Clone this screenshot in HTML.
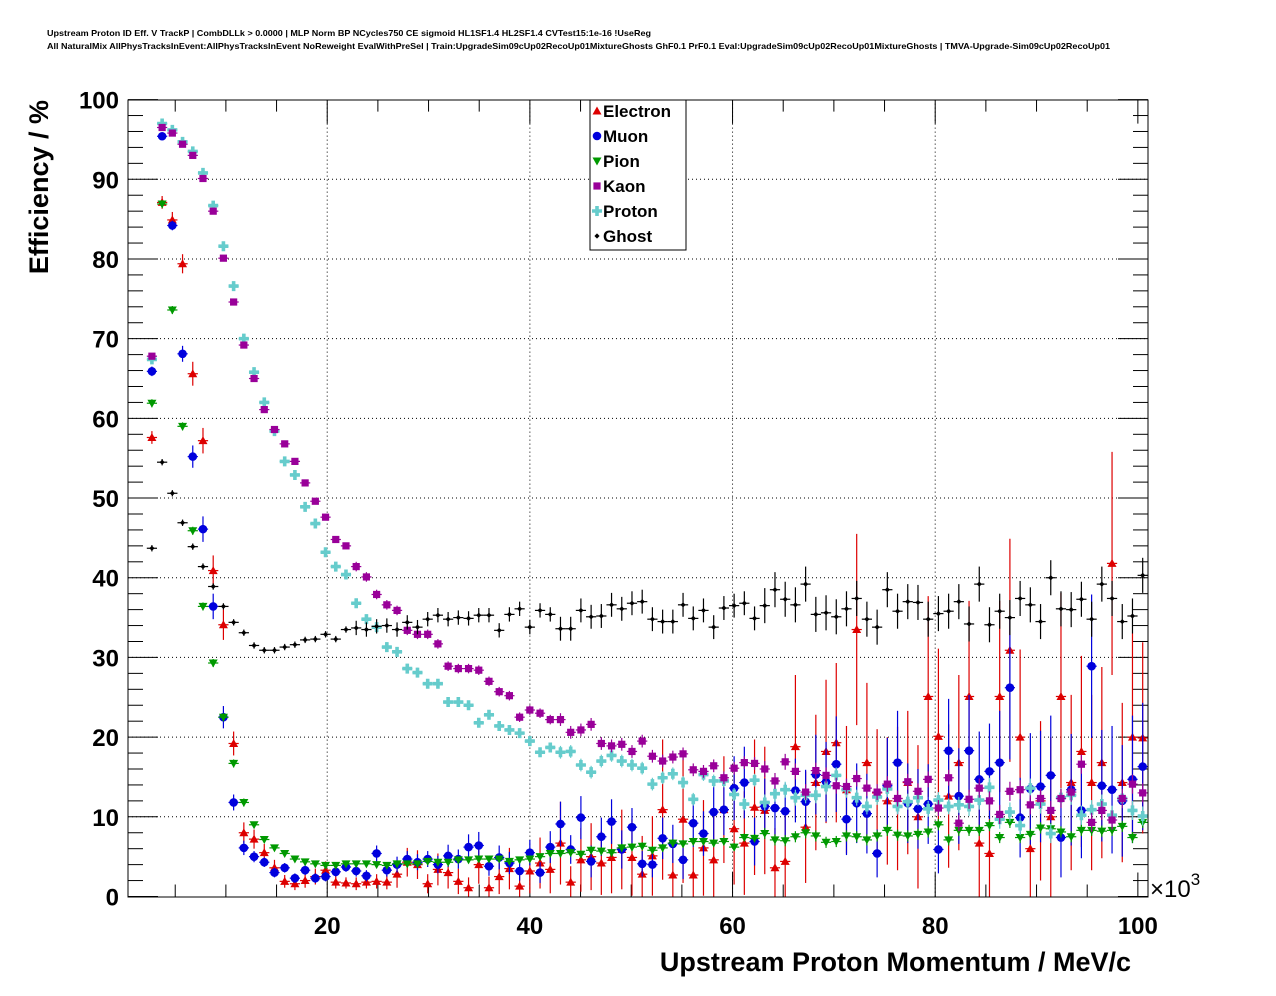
<!DOCTYPE html>
<html><head><meta charset="utf-8"><style>
html,body{margin:0;padding:0;background:#fff;}
svg{display:block;font-family:"Liberation Sans",Arial,sans-serif;}
</style></head><body>
<svg id="chart" width="1276" height="996" viewBox="0 0 1276 996" xmlns="http://www.w3.org/2000/svg">
<rect x="0" y="0" width="1276" height="996" fill="#fff"/>
<text x="47" y="36" font-size="8.5" font-weight="bold" textLength="604" lengthAdjust="spacingAndGlyphs">Upstream Proton ID Eff. V TrackP | CombDLLk &gt; 0.0000 | MLP Norm BP NCycles750 CE sigmoid HL1SF1.4 HL2SF1.4 CVTest15:1e-16 !UseReg</text>
<text x="47" y="49" font-size="8.5" font-weight="bold" textLength="1063" lengthAdjust="spacingAndGlyphs">All NaturalMix AllPhysTracksInEvent:AllPhysTracksInEvent NoReweight EvalWithPreSel | Train:UpgradeSim09cUp02RecoUp01MixtureGhosts GhF0.1 PrF0.1 Eval:UpgradeSim09cUp02RecoUp01MixtureGhosts | TMVA-Upgrade-Sim09cUp02RecoUp01</text>
<g id="grid"></g>
<g id="axes"></g>
<g id="marks"></g>
<rect x="128" y="100" width="1020" height="797" fill="none" stroke="#000" stroke-width="1"/>
<text x="48" y="100" font-size="27" font-weight="bold" text-anchor="end" transform="rotate(-90 48 100)">Efficiency / %</text>
<text x="1131" y="971" font-size="27" font-weight="bold" text-anchor="end">Upstream Proton Momentum / MeV/c</text>
<text x="1150" y="897" font-size="24">×10<tspan dy="-12" font-size="17">3</tspan></text>
<g id="legend">
<rect x="590" y="100" width="96" height="150" fill="#fff" stroke="#000" stroke-width="1"/>
</g>
</svg>
<script>
const NS="http://www.w3.org/2000/svg";
const yTicks=[0,10,20,30,40,50,60,70,80,90,100];
const xTicks=[20,40,60,80,100];
const seriesNames=["Electron","Muon","Pion","Kaon","Proton","Ghost"];
const electron=[57.6,87.1,84.9,79.4,65.6,57.2,40.9,34.1,19.2,8.0,7.2,5.5,3.6,1.9,1.6,2.0,2.5,3.3,1.8,1.7,
1.6,1.8,1.9,1.8,2.8,4.3,4.0,1.6,3.4,3.0,1.9,1.1,4.0,1.1,2.5,3.5,1.3,3.2,4.2,3.4,
6.7,1.8,4.6,5.0,4.2,4.9,5.9,4.9,2.8,5.1,10.9,2.7,9.7,2.7,6.1,4.6,10.9,8.5,6.7,11.2,
10.8,3.6,4.4,18.8,8.7,14.3,18.2,19.3,13.4,33.5,16.8,13.0,12.0,12.3,14.3,10.0,25.1,20.1,12.6,16.8,
25.1,6.7,5.4,25.1,30.9,20.0,6.0,12.0,10.0,25.1,14.3,18.2,14.3,16.8,41.8,14.3,20.0,19.9];
const electronErr=[0.8,0.8,1.0,1.2,1.5,1.6,1.9,1.9,1.5,1.3,1.2,1.1,1.0,0.8,0.8,0.9,1.0,1.1,0.8,0.7,
0.8,0.8,0.9,0.9,1.7,1.8,1.8,1.2,2.0,2.0,1.6,1.3,2.4,1.4,2.2,2.6,1.6,2.8,3.2,3.0,
5.2,2.0,4.0,4.2,4.0,4.5,5.0,4.8,4.8,5.0,8.8,3.2,8.0,3.5,6.0,5.5,6.7,7.0,6.5,8.5,
8.0,5.0,6.0,9.0,7.0,8.5,9.0,10.0,8.0,12.0,10.0,8.0,8.0,9.0,9.0,9.0,12.6,11.0,9.0,11.0,
12.0,8.0,8.0,12.0,14.0,11.0,7.0,10.0,10.0,13.0,11.0,12.0,11.0,12.0,14.0,10.0,13.0,12.0];
const muon=[65.9,95.4,84.2,68.1,55.2,46.1,36.4,22.5,11.8,6.1,5.0,4.3,3.0,3.6,2.3,3.3,2.3,2.5,3.1,3.7,
3.2,2.6,5.4,3.3,4.0,4.7,4.3,4.7,4.0,5.1,4.7,6.2,6.4,3.8,4.9,4.2,3.2,5.5,3.0,6.2,
9.1,5.9,9.9,4.4,7.5,9.4,5.9,8.7,4.1,4.0,7.3,6.6,4.6,9.2,7.9,10.6,10.9,13.6,14.3,6.9,
11.3,11.1,10.7,13.3,11.9,15.3,14.4,16.6,9.7,11.7,10.4,5.4,13.9,16.8,11.7,11.0,11.6,5.9,18.3,12.6,
18.3,14.7,15.7,16.8,26.2,9.9,13.5,13.8,15.2,7.4,13.4,10.8,28.9,13.9,13.4,12.0,14.7,16.3];
const muonErr=[0.6,0.4,0.6,1.0,1.4,1.6,1.6,1.4,1.0,0.9,0.7,0.6,0.6,0.6,0.6,0.6,0.6,0.6,0.6,0.6,
0.7,0.7,1.0,0.8,1.0,1.0,1.0,1.0,1.1,1.4,1.2,1.6,1.7,1.2,1.5,1.4,1.2,1.6,1.3,2.0,
2.8,1.8,2.7,2.0,2.4,2.8,2.4,2.4,1.6,1.6,2.6,2.4,2.4,3.0,2.8,3.4,3.2,4.0,4.5,3.0,
3.5,3.5,3.5,4.0,4.0,5.0,5.0,6.0,4.5,5.0,5.0,3.0,6.0,6.5,5.0,5.0,5.0,3.0,6.5,6.0,
7.0,6.0,6.0,6.5,9.0,5.0,7.0,7.0,7.5,5.0,7.0,6.0,9.0,7.0,8.0,7.0,8.0,8.0];
const pion=[61.9,86.9,73.6,59.0,45.9,36.4,29.3,22.5,16.7,11.8,9.0,7.15,6.1,5.4,4.7,4.35,4.1,3.9,3.9,4.1,
4.1,4.1,4.0,3.9,4.1,4.1,4.1,4.4,4.3,4.3,4.6,4.6,4.7,4.7,4.7,4.4,4.6,4.7,5.0,5.4,
5.4,5.5,5.3,5.8,5.7,5.5,6.1,6.2,6.3,5.8,6.1,6.7,6.6,6.9,6.9,6.7,6.9,6.2,7.4,7.3,
7.9,7.1,7.0,7.5,8.0,7.6,6.8,6.9,7.6,7.5,7.1,7.6,8.3,7.7,7.6,7.8,8.1,9.0,7.1,8.3,
8.3,8.3,8.9,7.4,9.3,7.4,7.8,8.6,8.5,8.1,7.5,8.3,8.3,8.2,8.3,8.8,7.4,9.3];
const pionErr=[0.5,0.5,0.5,0.5,0.5,0.5,0.5,0.5,0.5,0.5,0.3,0.3,0.3,0.3,0.3,0.3,0.3,0.3,0.3,0.3,
0.3,0.3,0.3,0.3,0.3,0.3,0.3,0.3,0.3,0.3,0.3,0.3,0.3,0.3,0.3,0.3,0.3,0.3,0.3,0.3,
0.5,0.5,0.5,0.5,0.5,0.5,0.5,0.5,0.5,0.5,0.5,0.5,0.5,0.5,0.5,0.5,0.5,0.5,0.5,0.5,
0.7,0.7,0.7,0.7,0.7,0.7,0.7,0.7,0.7,0.7,0.7,0.7,0.7,0.7,0.7,0.7,0.7,0.7,0.7,0.7,
0.7,0.7,0.7,0.7,0.7,0.7,0.7,0.7,0.7,0.7,0.7,0.7,0.7,0.7,0.7,0.7,0.7,0.7];
const kaon=[67.8,96.5,95.8,94.4,93.0,90.1,86.0,80.1,74.6,69.2,65.0,61.1,58.6,56.8,54.6,51.9,49.6,47.6,44.8,44.0,
41.4,40.1,37.9,36.6,35.9,33.4,32.9,32.9,31.7,28.9,28.6,28.6,28.4,27.0,25.7,25.2,22.5,23.4,23.0,22.2,
22.2,20.6,20.9,21.6,19.2,18.9,19.1,18.2,19.5,17.6,17.0,17.5,17.9,15.9,15.7,16.4,14.9,16.1,16.8,16.7,
16.0,14.5,16.9,15.7,13.1,15.8,15.2,13.9,13.8,14.8,13.6,13.1,14.1,12.3,14.4,13.2,14.7,11.1,14.9,9.2,
12.2,13.6,12.0,10.3,13.2,13.4,11.5,12.3,10.8,12.3,13.1,16.6,9.3,10.8,9.6,12.3,14.1,13.0];
const proton=[67.4,97.0,96.2,94.7,93.5,90.8,86.7,81.6,76.6,70.0,65.8,62.0,58.4,54.6,52.9,48.9,46.8,43.2,41.4,40.4,
36.8,34.8,33.8,31.3,30.7,28.6,28.1,26.7,26.7,24.4,24.4,24.0,21.8,22.8,21.4,20.9,20.5,19.5,18.1,18.7,
18.1,18.2,16.5,15.6,17.0,17.7,17.0,16.5,16.1,14.1,14.9,15.4,14.3,12.2,15.3,14.5,14.5,12.8,11.6,14.6,
11.8,12.9,13.4,12.4,12.7,12.7,13.8,15.2,13.4,12.4,11.3,12.5,13.5,11.3,11.9,12.4,11.0,12.1,11.3,11.5,
11.3,12.1,13.7,9.7,10.6,8.9,13.6,11.6,7.9,12.4,12.7,10.2,10.9,11.6,10.2,12.3,10.8,10.1];
const hadronErr=[0.4,0.4,0.4,0.4,0.4,0.4,0.4,0.4,0.4,0.4,0.4,0.4,0.4,0.4,0.4,0.4,0.4,0.4,0.4,0.4,
0.6,0.6,0.6,0.6,0.6,0.6,0.6,0.6,0.6,0.6,0.6,0.6,0.6,0.6,0.6,0.6,0.6,0.6,0.6,0.6,
0.8,0.8,0.8,0.8,0.8,0.8,0.8,0.8,0.8,0.8,0.8,0.8,0.8,0.8,0.8,0.8,0.8,0.8,0.8,0.8,
1.0,1.0,1.0,1.0,1.0,1.0,1.0,1.0,1.0,1.0,1.0,1.0,1.0,1.0,1.0,1.0,1.0,1.0,1.0,1.0,
1.2,1.2,1.2,1.2,1.2,1.2,1.2,1.2,1.2,1.2,1.2,1.2,1.2,1.2,1.2,1.2,1.2,1.2];
const ghost=[43.7,54.5,50.6,46.9,43.9,41.4,38.9,36.4,34.4,33.1,31.5,30.9,30.9,31.3,31.6,32.2,32.3,32.9,32.3,33.5,
33.7,33.5,33.9,34.0,33.5,34.4,33.8,34.8,35.3,34.8,35.0,34.9,35.3,35.3,33.4,35.4,36.1,33.8,35.9,35.4,
33.6,33.6,35.9,35.1,35.2,36.6,36.1,36.8,37.0,34.8,34.5,34.5,36.6,34.9,35.9,33.8,36.2,36.5,36.8,34.9,
36.5,38.5,37.3,36.6,39.2,35.4,35.6,35.1,36.1,37.4,34.8,33.8,38.5,35.8,37.0,36.9,34.8,35.5,35.8,37.0,
34.2,39.2,34.1,35.8,35.0,37.4,36.6,34.5,40.0,36.1,36.0,37.3,34.8,39.2,37.4,34.5,35.2,40.3];
const ghostErr=[0.4,0.4,0.4,0.4,0.4,0.4,0.4,0.4,0.4,0.4,0.4,0.4,0.4,0.4,0.4,0.4,0.4,0.4,0.4,0.4,
0.9,0.9,0.9,0.9,0.9,0.9,0.9,0.9,0.9,0.9,0.9,0.9,0.9,0.9,0.9,0.9,0.9,0.9,0.9,0.9,
1.5,1.5,1.5,1.5,1.5,1.5,1.5,1.5,1.5,1.5,1.5,1.5,1.5,1.5,1.5,1.5,1.5,1.5,1.5,1.5,
2.2,2.2,2.2,2.2,2.2,2.2,2.2,2.2,2.2,2.2,2.2,2.2,2.2,2.2,2.2,2.2,2.2,2.2,2.2,2.2,
2.2,2.2,2.2,2.2,2.2,2.2,2.2,2.2,2.2,2.2,2.2,2.2,2.2,2.2,2.2,2.2,2.2,2.2];
const binStart=2.70, binWidth=1.008;

const X0=128,X1=1148,Y0=896.5,Y1=99.6;
const xMin=0.34,xMax=101.0;
function sx(v){return X0+(v-xMin)/(xMax-xMin)*(X1-X0);}
function sy(v){return Y0+(v-0)/(100-0)*(Y1-Y0);}
function mk(tag,attrs,parent){const e=document.createElementNS(NS,tag);for(const k in attrs)e.setAttribute(k,attrs[k]);parent.appendChild(e);return e;}

const grid=document.getElementById('grid'), axes=document.getElementById('axes'), marks=document.getElementById('marks');
yTicks.forEach(t=>{ if(t>0&&t<100){
  const l=mk('line',{x1:X0,x2:X1,y1:sy(t),y2:sy(t),stroke:'#000','stroke-width':1,'stroke-dasharray':'1,3'},grid);
  
  
}});
xTicks.forEach(t=>{ if(t<100){
  const l=mk('line',{x1:sx(t),x2:sx(t),y1:Y1,y2:Y0,stroke:'#000','stroke-width':1,'stroke-dasharray':'1,3'},grid);
  
  
}});
for(let v=0;v<=100;v+=2){
  const len=(v%10===0)?30:15;
  const a=mk('line',{x1:X0,x2:X0+len,y1:sy(v),y2:sy(v),stroke:'#000','stroke-width':1},axes);
  
  
  const b=mk('line',{x1:X1,x2:X1-len,y1:sy(v),y2:sy(v),stroke:'#000','stroke-width':1},axes);
  
  
}
yTicks.forEach(t=>{
  const tx=mk('text',{x:119,y:sy(t)+9,'font-size':24,'font-weight':'bold','text-anchor':'end'},axes);
  tx.textContent=t;
  
  
});
for(let v=5;v<=100;v+=5){
  const len=(v%20===0)?24:12;
  const a=mk('line',{x1:sx(v),x2:sx(v),y1:Y0,y2:Y0-len,stroke:'#000','stroke-width':1},axes);
  
  
  const b=mk('line',{x1:sx(v),x2:sx(v),y1:Y1,y2:Y1+len,stroke:'#000','stroke-width':1},axes);
  
  
}
xTicks.forEach(t=>{
  const tx=mk('text',{x:sx(t),y:934,'font-size':24,'font-weight':'bold','text-anchor':'middle'},axes);
  tx.textContent=t;
  
  
});

function marker(g,type,color,cx,cy){
  let e;
  if(type==='tri'){e=mk('polygon',{points:`${cx},${cy-4.5} ${cx+4.5},${cy+3.5} ${cx-4.5},${cy+3.5}`,fill:color},g);}
  else if(type==='itri'){e=mk('polygon',{points:`${cx},${cy+4.5} ${cx+4.5},${cy-3.5} ${cx-4.5},${cy-3.5}`,fill:color},g);}
  else if(type==='circ'){e=mk('circle',{cx:cx,cy:cy,r:4.3,fill:color},g);}
  else if(type==='sq'){e=mk('rect',{x:cx-3.6,y:cy-3.6,width:7.2,height:7.2,fill:color},g);}
  else if(type==='cross'){e=mk('path',{d:`M${cx-1.8},${cy-5}h3.6v3.2h3.2v3.6h-3.2v3.2h-3.6v-3.2h-3.2v-3.6h3.2z`,fill:color},g);}
  else {e=mk('path',{d:`M${cx},${cy-2.6}L${cx+2.6},${cy}L${cx},${cy+2.6}L${cx-2.6},${cy}z`,fill:color},g);}
  return e;
}
const seriesDefs=[
 {vals:electron,errs:electronErr,type:'tri',color:'#dd0000',name:'electron'},
 {vals:muon,errs:muonErr,type:'circ',color:'#0000dd',name:'muon'},
 {vals:pion,errs:pionErr,type:'itri',color:'#009900',name:'pion'},
 {vals:proton,errs:hadronErr,type:'cross',color:'#66cccc',name:'proton'},
 {vals:kaon,errs:hadronErr,type:'sq',color:'#990099',name:'kaon'},
 {vals:ghost,errs:ghostErr,type:'dia',color:'#000000',name:'ghost'}
];
seriesDefs.forEach(s=>{
  const g=mk('g',{},marks);
  
  
  s.vals.forEach((v,i)=>{
    const xc=binStart+binWidth*i;
    const cx=sx(xc), cy=sy(v);
    const top=Math.max(Y1,sy(v+s.errs[i])), bot=Math.min(Y0,sy(Math.max(0,v-s.errs[i])));
    const ev=mk('line',{x1:cx,x2:cx,y1:top,y2:bot,stroke:s.color,'stroke-width':1.2},g);
    
    
    const eh=mk('line',{x1:sx(xc-binWidth/2),x2:sx(xc+binWidth/2),y1:cy,y2:cy,stroke:s.color,'stroke-width':1.2},g);
    
    
    const m=marker(g,s.type,s.color,cx,cy);
    
    
  });
});
const leg=document.getElementById('legend');
const legTypes=['tri','circ','itri','sq','cross','dia'];
const legColors=['#dd0000','#0000dd','#009900','#990099','#66cccc','#000000'];
seriesNames.forEach((n,i)=>{
  const cy=111+25*i;
  const m=marker(leg,legTypes[i],legColors[i],597,cy);
  
  
  const t=mk('text',{x:603,y:cy+6,'font-size':17,'font-weight':'bold'},leg);
  t.textContent=n;
  
  
});
</script>
</body></html>
